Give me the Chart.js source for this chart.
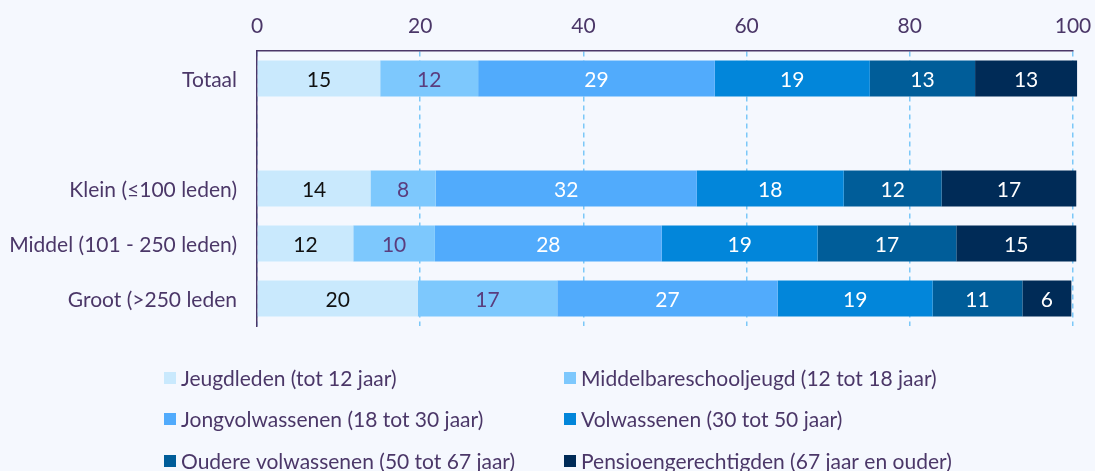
<!DOCTYPE html>
<html>
<head>
<meta charset="utf-8">
<script src="https://cdn.jsdelivr.net/npm/chart.js@4"></script>
<style>
  html, body { margin: 0; padding: 0; background: #f5f8fe; }
  #wrap { width: 1095px; height: 471px; position: relative; }
</style>
</head>
<body>
<div id="wrap"><canvas id="c"></canvas></div>
<script>
const categories = ['Totaal', '', 'Klein (≤100 leden)', 'Middel (101 - 250 leden)', 'Groot (>250 leden'];
const seriesNames = [
  'Jeugdleden (tot 12 jaar)',
  'Middelbareschooljeugd (12 tot 18 jaar)',
  'Jongvolwassenen (18 tot 30 jaar)',
  'Volwassenen (30 tot 50 jaar)',
  'Oudere volwassenen (50 tot 67 jaar)',
  'Pensioengerechtigden (67 jaar en ouder)'
];
const jeugdleden       = [15.1, null, 13.9, 11.8, 19.7];
const middelbare       = [12.0, null,  8.0, 10.0, 17.1];
const jongvolwassenen  = [29.0, null, 32.0, 27.8, 27.0];
const volwassenen      = [19.0, null, 18.0, 19.1, 19.0];
const oudere           = [12.9, null, 12.0, 17.0, 11.0];
const pensioen         = [12.5, null, 16.5, 14.7,  6.0];
const xTicks = [0, 20, 40, 60, 80, 100];

const colors = ['#c9e9fd', '#7dc8fd', '#51abfc', '#0286da', '#005d99', '#002b57'];
const labelColors = ['#111111', '#5a3d7e', '#ffffff', '#ffffff', '#ffffff', '#ffffff'];
const TEXT = '#4b3768';
const FONT = 'Lato';

const seriesData = [jeugdleden, middelbare, jongvolwassenen, volwassenen, oudere, pensioen];

const barLabels = {
  id: 'barLabels',
  afterDatasetsDraw(chart) {
    const ctx = chart.ctx;
    ctx.save();
    ctx.font = '21px ' + FONT;
    ctx.textAlign = 'center';
    ctx.textBaseline = 'middle';
    chart.data.datasets.forEach((ds, di) => {
      const meta = chart.getDatasetMeta(di);
      meta.data.forEach((el, i) => {
        const v = ds.data[i];
        if (v === null || v === undefined) return;
        const p = el.getProps(['x', 'y', 'base'], true);
        ctx.fillStyle = labelColors[di];
        ctx.fillText(String(Math.round(v)), (p.x + p.base) / 2, p.y + 2);
      });
    });
    ctx.restore();
  }
};

const gridLegend = {
  id: 'gridLegend',
  afterDraw(chart) {
    const ctx = chart.ctx;
    const colX = [164, 564];
    const rowTop = [372, 413, 455];
    ctx.save();
    ctx.font = '21px ' + FONT;
    ctx.textBaseline = 'alphabetic';
    ctx.textAlign = 'left';
    chart.data.datasets.forEach((ds, i) => {
      const x = colX[i % 2];
      const y = rowTop[Math.floor(i / 2)];
      ctx.fillStyle = ds.backgroundColor;
      ctx.fillRect(x, y, 12, 12);
      ctx.fillStyle = TEXT;
      ctx.fillText(ds.label, x + 17, y + 14);
    });
    ctx.restore();
  }
};

new Chart(document.getElementById('c'), {
  type: 'bar',
  data: {
    labels: categories,
    datasets: seriesData.map((d, i) => ({
      label: seriesNames[i],
      data: d,
      backgroundColor: colors[i],
      borderWidth: 0,
      barPercentage: 0.655,
      categoryPercentage: 1,
      clip: false
    }))
  },
  options: {
    indexAxis: 'y',
    responsive: true,
    maintainAspectRatio: false,
    animation: false,
    layout: { padding: { top: 0, left: 0, right: 22, bottom: 145 } },
    plugins: { legend: { display: false }, tooltip: { enabled: false } },
    scales: {
      x: {
        position: 'top',
        stacked: true,
        min: 0, max: 100,
        afterBuildTicks(scale) { scale.ticks = xTicks.map(v => ({ value: v })); },
        afterFit(scale) { scale.height = 51; scale.paddingLeft = 0; scale.paddingRight = 0; },
        ticks: { color: TEXT, font: { family: FONT, size: 21 }, padding: 12 },
        grid: { color: '#7cc8f8', lineWidth: 1.5, drawTicks: false },
        border: { display: true, color: TEXT, width: 1.5, dash: [5, 4] }
      },
      y: {
        stacked: true,
        afterFit(scale) { scale.width = 257; scale.paddingTop = 0; scale.paddingBottom = 0; },
        ticks: { color: TEXT, font: { family: FONT, size: 21 }, padding: 20, labelOffset: 2 },
        grid: { display: false, drawTicks: false },
        border: { display: true, color: TEXT, width: 1.5 }
      }
    }
  },
  plugins: [barLabels, gridLegend]
});
</script>
</body>
</html>
